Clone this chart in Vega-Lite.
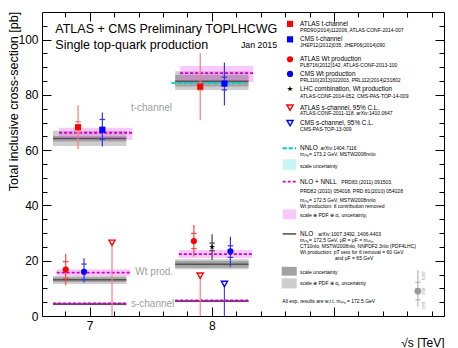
{
  "$schema": "https://vega.github.io/schema/vega-lite/v6.json",
  "width": 402,
  "height": 304,
  "autosize": {"type": "none"},
  "padding": {"left": 42, "top": 12, "right": 14, "bottom": 32},
  "config": {"view": {"stroke": "#000000", "strokeWidth": 1}, "font": "Liberation Sans", "text": {"font": "Liberation Sans"}},
  "datasets": {
    "bands": [
      {"x1": 6.7, "x2": 7.3, "y1": 61.5, "y2": 67.0, "kind": "tot"},
      {"x1": 7.7, "x2": 8.3, "y1": 81.8, "y2": 88.6, "kind": "tot"},
      {"x1": 6.7, "x2": 7.3, "y1": 11.6, "y2": 14.5, "kind": "tot"},
      {"x1": 7.7, "x2": 8.3, "y1": 16.9, "y2": 20.5, "kind": "tot"},
      {"x1": 6.7, "x2": 7.3, "y1": 3.9, "y2": 4.8, "kind": "tot"},
      {"x1": 7.7, "x2": 8.3, "y1": 5.0, "y2": 5.8, "kind": "tot"},
      {"x1": 8.572, "x2": 8.695, "y1": 10.0, "y2": 13.6, "kind": "tot"},
      {"x1": 6.7, "x2": 7.3, "y1": 63.1, "y2": 65.1, "kind": "scale"},
      {"x1": 7.7, "x2": 8.3, "y1": 83.0, "y2": 87.2, "kind": "scale"},
      {"x1": 6.7, "x2": 7.3, "y1": 12.3, "y2": 14.0, "kind": "scale"},
      {"x1": 7.7, "x2": 8.3, "y1": 17.5, "y2": 19.9, "kind": "scale"},
      {"x1": 6.7, "x2": 7.3, "y1": 4.1, "y2": 4.6, "kind": "scale"},
      {"x1": 7.7, "x2": 8.3, "y1": 5.2, "y2": 5.6, "kind": "scale"},
      {"x1": 8.572, "x2": 8.695, "y1": 14.6, "y2": 17.8, "kind": "scale"},
      {"x1": 6.75, "x2": 7.35, "y1": 63.7, "y2": 68.1, "kind": "nnll"},
      {"x1": 7.74, "x2": 8.34, "y1": 84.7, "y2": 90.5, "kind": "nnll"},
      {"x1": 6.73, "x2": 7.33, "y1": 14.5, "y2": 16.9, "kind": "nnll"},
      {"x1": 7.73, "x2": 8.33, "y1": 21.0, "y2": 23.9, "kind": "nnll"},
      {"x1": 6.7, "x2": 7.3, "y1": 4.4, "y2": 4.8, "kind": "nnll"},
      {"x1": 7.7, "x2": 8.3, "y1": 5.4, "y2": 5.8, "kind": "nnll"},
      {"x1": 8.58, "x2": 8.69, "y1": 35.0, "y2": 38.6, "kind": "nnll"},
      {"x1": 7.67, "x2": 8.27, "y1": 83.9, "y2": 84.8, "kind": "nnlo"},
      {"x1": 8.58, "x2": 8.69, "y1": 52.8, "y2": 56.7, "kind": "nnlo"}
    ],
    "lines": [
      {"x1": 6.7, "x2": 7.3, "y": 64.2, "kind": "nlo"},
      {"x1": 7.7, "x2": 8.3, "y": 84.9, "kind": "nlo"},
      {"x1": 6.7, "x2": 7.3, "y": 13.1, "kind": "nlo"},
      {"x1": 7.7, "x2": 8.3, "y": 18.7, "kind": "nlo"},
      {"x1": 6.7, "x2": 7.3, "y": 4.3, "kind": "nlo"},
      {"x1": 7.7, "x2": 8.3, "y": 5.4, "kind": "nlo"},
      {"x1": 8.58, "x2": 8.69, "y": 29.7, "kind": "nlo"},
      {"x1": 6.75, "x2": 7.35, "y": 66.3, "kind": "nnll"},
      {"x1": 7.74, "x2": 8.34, "y": 87.9, "kind": "nnll"},
      {"x1": 6.73, "x2": 7.33, "y": 15.7, "kind": "nnll"},
      {"x1": 7.73, "x2": 8.33, "y": 22.4, "kind": "nnll"},
      {"x1": 6.7, "x2": 7.3, "y": 4.6, "kind": "nnll"},
      {"x1": 7.7, "x2": 8.3, "y": 5.6, "kind": "nnll"},
      {"x1": 8.58, "x2": 8.69, "y": 48.6, "kind": "nnll"},
      {"x1": 7.67, "x2": 8.27, "y": 84.3, "kind": "nnlo"},
      {"x1": 8.58, "x2": 8.69, "y": 60.7, "kind": "nnlo"}
    ],
    "pts": [
      {"series": "ATLAS t-channel", "type": "measurement", "x": 6.905, "y": 68.3, "lo": 60.3, "hi": 76.3, "slo": 66.3, "shi": 70.3},
      {"series": "CMS t-channel", "type": "measurement", "x": 7.104, "y": 67.4, "lo": 61.3, "hi": 73.6, "slo": 63.9, "shi": 71.1},
      {"series": "ATLAS t-channel", "type": "measurement", "x": 7.905, "y": 83.0, "lo": 70.8, "hi": 95.1, "slo": 81.8, "shi": 84.2},
      {"series": "CMS t-channel", "type": "measurement", "x": 8.103, "y": 84.1, "lo": 76.2, "hi": 91.7, "slo": 81.8, "shi": 86.4},
      {"series": "ATLAS Wt", "type": "measurement", "x": 6.804, "y": 16.8, "lo": 11.1, "hi": 22.4, "slo": 13.6, "shi": 19.7},
      {"series": "CMS Wt", "type": "measurement", "x": 6.954, "y": 16.0, "lo": 12.1, "hi": 20.9, "slo": 13.2, "shi": 18.8},
      {"series": "ATLAS Wt", "type": "measurement", "x": 7.853, "y": 27.1, "lo": 21.5, "hi": 32.9, "slo": 24.4, "shi": 29.9},
      {"series": "LHC combination", "type": "measurement", "x": 8.002, "y": 25.0, "lo": 20.3, "hi": 29.6, "slo": 23.6, "shi": 26.4},
      {"series": "CMS Wt", "type": "measurement", "x": 8.152, "y": 23.4, "lo": 17.8, "hi": 28.7, "slo": 21.2, "shi": 25.4},
      {"series": "ATLAS s-channel", "type": "limit", "x": 7.183, "y": 26.5, "lo": 0, "hi": 26.5},
      {"series": "ATLAS s-channel", "type": "limit", "x": 7.905, "y": 14.6, "lo": 0, "hi": 14.6},
      {"series": "CMS s-channel", "type": "limit", "x": 8.103, "y": 11.6, "lo": 0, "hi": 11.6},
      {"series": "ATLAS t-channel", "type": "measurement", "x": 8.64, "y": 105.7},
      {"series": "CMS t-channel", "type": "measurement", "x": 8.64, "y": 100.1},
      {"series": "ATLAS Wt", "type": "measurement", "x": 8.64, "y": 92.9},
      {"series": "CMS Wt", "type": "measurement", "x": 8.64, "y": 87.6},
      {"series": "LHC combination", "type": "measurement", "x": 8.64, "y": 82.2},
      {"series": "ATLAS s-channel", "type": "limit", "x": 8.64, "y": 75.4},
      {"series": "CMS s-channel", "type": "limit", "x": 8.64, "y": 69.8}
    ],
    "keypt": [
      {"x": 9.686, "y": 9.0, "lo": 3.4, "hi": 16.6, "slo": 5.8, "shi": 12.2}
    ],
    "texts": [
      {"g": "title", "x": 6.719, "y": 103.9, "text": "ATLAS + CMS Preliminary TOPLHCWG"},
      {"g": "title", "x": 6.719, "y": 98.1, "text": "Single top-quark production"},
      {"g": "date", "x": 8.534, "y": 98.1, "text": "Jan 2015"},
      {"g": "band", "x": 7.338, "y": 75.2, "text": "t-channel"},
      {"g": "band", "x": 7.374, "y": 16.0, "text": "Wt prod."},
      {"g": "band", "x": 7.338, "y": 4.5, "text": "s-channel"},
      {"g": "entry", "x": 8.722, "y": 105.7, "text": "ATLAS t-channel"},
      {"g": "entry", "x": 8.722, "y": 100.1, "text": "CMS t-channel"},
      {"g": "entry", "x": 8.722, "y": 92.9, "text": "ATLAS Wt production"},
      {"g": "entry", "x": 8.722, "y": 87.6, "text": "CMS Wt production"},
      {"g": "entry", "x": 8.722, "y": 82.2, "text": "LHC combination,  Wt production"},
      {"g": "entry", "x": 8.722, "y": 75.4, "text": "ATLAS s-channel, 95% C.L."},
      {"g": "entry", "x": 8.722, "y": 69.8, "text": "CMS s-channel, 95% C.L."},
      {"g": "entry", "x": 8.722, "y": 60.7, "text": "NNLO"},
      {"g": "entry", "x": 8.722, "y": 48.6, "text": "NLO + NNLL"},
      {"g": "entry", "x": 8.722, "y": 29.7, "text": "NLO"},
      {"g": "ref", "x": 8.722, "y": 103.4, "text": "PRD90(2014)112006, ATLAS-CONF-2014-007"},
      {"g": "ref", "x": 8.722, "y": 98.0, "text": "JHEP12(2012)035, JHEP06(2014)090"},
      {"g": "ref", "x": 8.722, "y": 90.7, "text": "PLB716(2012)142, ATLAS-CONF-2013-100"},
      {"g": "ref", "x": 8.722, "y": 85.4, "text": "PRL110(2013)022003, PRL112(2014)231802"},
      {"g": "ref", "x": 8.722, "y": 79.7, "text": "ATLAS-CONF-2014-052, CMS-PAS-TOP-14-009"},
      {"g": "ref", "x": 8.722, "y": 73.3, "text": "ATLAS-CONF-2011-118, arXiv:1410.0647"},
      {"g": "ref", "x": 8.722, "y": 67.5, "text": "CMS-PAS-TOP-13-009"},
      {"g": "ref", "x": 8.89, "y": 60.7, "text": "arXiv:1404.7116"},
      {"g": "ref", "x": 8.722, "y": 58.5, "text": "mₜₒₚ= 173.2 GeV, MSTW2008nnlo"},
      {"g": "ref", "x": 8.722, "y": 54.4, "text": "scale uncertainty"},
      {"g": "ref", "x": 9.06, "y": 48.6, "text": "PRD83 (2011) 091503,"},
      {"g": "ref", "x": 8.722, "y": 45.2, "text": "PRD82 (2010) 054018, PRD 81(2010) 054028"},
      {"g": "ref", "x": 8.722, "y": 42.0, "text": "mₜₒₚ= 172.5 GeV, MSTW2008nnlo"},
      {"g": "ref", "x": 8.722, "y": 39.7, "text": "Wt production: tt̄ contribution removed"},
      {"g": "ref", "x": 8.722, "y": 36.5, "text": "scale ⊕ PDF ⊕ αₛ uncertainty,"},
      {"g": "ref", "x": 8.87, "y": 29.7, "text": "arXiv:1007.3492, 1406.4403"},
      {"g": "ref", "x": 8.722, "y": 27.5, "text": "mₜₒₚ= 172.5 GeV, μR = μF = mₜₒₚ,"},
      {"g": "ref", "x": 8.722, "y": 25.3, "text": "CT10nlo, MSTW2008nlo, NNPDF2.3nlo (PDF4LHC)"},
      {"g": "ref", "x": 8.722, "y": 23.0, "text": "Wt production: pT veto for tt̄ removal = 60 GeV"},
      {"g": "ref", "x": 9.008, "y": 20.9, "text": "and μF = 65 GeV"},
      {"g": "ref", "x": 8.722, "y": 16.0, "text": "scale uncertainty"},
      {"g": "ref", "x": 8.722, "y": 11.8, "text": "scale ⊕ PDF ⊕ αₛ uncertainty"},
      {"g": "ref", "x": 8.577, "y": 5.5, "text": "All exp. results are w.r.t. mₜₒₚ = 172.5 GeV"},
      {"g": "key", "x": 9.735, "y": 14.6, "text": "total"},
      {"g": "key", "x": 9.735, "y": 9.0, "text": "stat"},
      {"g": "key", "x": 9.735, "y": 3.8, "text": "syst"}
    ]
  },
  "layer": [
    {
      "data": {"name": "bands"},
      "transform": [{"filter": "datum.kind === 'tot' || datum.kind === 'scale'"}],
      "mark": {"type": "rect"},
      "encoding": {
        "x": {"field": "x1", "type": "quantitative", "scale": {"domain": [6.61, 9.9], "nice": false, "zero": false},
          "axis": {"orient": "bottom", "values": [6.8, 7, 7.2, 7.4, 7.6, 7.8, 8, 8.2, 8.4, 8.6, 8.8, 9, 9.2, 9.4, 9.6, 9.8],
            "domain": false, "grid": false, "tickColor": "#000000", "tickWidth": 1,
            "tickSize": {"condition": {"test": "abs(datum.value - round(datum.value)) < 0.01", "value": -9}, "value": -5},
            "labelExpr": "abs(datum.value - 7) < 0.01 ? '7' : (abs(datum.value - 8) < 0.01 ? '8' : '')",
            "labelFontSize": 12, "labelColor": "#000000", "labelPadding": 13, "labelFont": "Liberation Sans",
            "title": "√s [TeV]", "titleFontSize": 12, "titleFontWeight": "normal", "titleFont": "Liberation Sans",
            "titleX": 402, "titleY": 26, "titleAlign": "right", "titleBaseline": "middle", "titleColor": "#000000"}},
        "x2": {"field": "x2"},
        "y": {"field": "y1", "type": "quantitative", "scale": {"domain": [0, 110], "nice": false, "zero": false},
          "axis": {"orient": "left", "values": [0, 5, 10, 15, 20, 25, 30, 35, 40, 45, 50, 55, 60, 65, 70, 75, 80, 85, 90, 95, 100, 105],
            "domain": false, "grid": false, "tickColor": "#000000", "tickWidth": 1,
            "tickSize": {"condition": {"test": "datum.value % 20 === 0", "value": -9}, "value": -5},
            "labelExpr": "datum.value % 20 === 0 ? datum.label : ''",
            "labelFontSize": 12, "labelColor": "#000000", "labelPadding": 13, "labelFont": "Liberation Sans",
            "title": "Total inclusive cross-section [pb]", "titleFontSize": 12.5, "titleFontWeight": "normal", "titleFont": "Liberation Sans",
            "titleX": -29, "titleY": 89, "titleAngle": 270, "titleAlign": "center", "titleBaseline": "middle", "titleColor": "#000000"}},
        "y2": {"field": "y2"},
        "fill": {"field": "kind", "type": "nominal", "legend": null,
          "scale": {"domain": ["tot", "scale"], "range": ["#cdcdcd", "#a3a3a3"]}}
      }
    },
    {
      "data": {"name": "bands"},
      "transform": [{"filter": "datum.kind === 'nnll'"}],
      "mark": {"type": "rect", "fill": "#ee77ee", "opacity": 0.4},
      "encoding": {
        "x": {"field": "x1", "type": "quantitative", "axis": null},
        "x2": {"field": "x2"},
        "y": {"field": "y1", "type": "quantitative", "axis": null},
        "y2": {"field": "y2"}
      }
    },
    {
      "data": {"name": "bands"},
      "transform": [{"filter": "datum.kind === 'nnlo'"}],
      "mark": {"type": "rect", "fill": "#77e6e6", "opacity": 0.4},
      "encoding": {
        "x": {"field": "x1", "type": "quantitative", "axis": null},
        "x2": {"field": "x2"},
        "y": {"field": "y1", "type": "quantitative", "axis": null},
        "y2": {"field": "y2"}
      }
    },
    {
      "data": {"name": "lines"},
      "transform": [{"filter": "datum.kind === 'nlo'"}],
      "mark": {"type": "rule", "color": "#555555", "strokeWidth": 1.6},
      "encoding": {
        "x": {"field": "x1", "type": "quantitative", "scale": {"domain": [6.61, 9.9], "nice": false, "zero": false},
          "axis": {"orient": "top", "values": [6.8, 7, 7.2, 7.4, 7.6, 7.8, 8, 8.2, 8.4, 8.6, 8.8, 9, 9.2, 9.4, 9.6, 9.8],
            "domain": false, "grid": false, "labels": false, "title": null, "tickColor": "#000000", "tickWidth": 1,
            "tickSize": {"condition": {"test": "abs(datum.value - round(datum.value)) < 0.01", "value": -9}, "value": -5}}},
        "x2": {"field": "x2"},
        "y": {"field": "y", "type": "quantitative", "scale": {"domain": [0, 110], "nice": false, "zero": false},
          "axis": {"orient": "right", "values": [0, 5, 10, 15, 20, 25, 30, 35, 40, 45, 50, 55, 60, 65, 70, 75, 80, 85, 90, 95, 100, 105],
            "domain": false, "grid": false, "labels": false, "title": null, "tickColor": "#000000", "tickWidth": 1,
            "tickSize": {"condition": {"test": "datum.value % 20 === 0", "value": -9}, "value": -5}}}
      }
    },
    {
      "data": {"name": "lines"},
      "transform": [{"filter": "datum.kind === 'nnll'"}],
      "mark": {"type": "rule", "color": "#cc00cc", "strokeWidth": 1.8, "strokeDash": [3, 2]},
      "encoding": {
        "x": {"field": "x1", "type": "quantitative", "axis": null},
        "x2": {"field": "x2"},
        "y": {"field": "y", "type": "quantitative", "axis": null}
      }
    },
    {
      "data": {"name": "lines"},
      "transform": [{"filter": "datum.kind === 'nnlo'"}],
      "mark": {"type": "rule", "color": "#00cccc", "strokeWidth": 1.8, "strokeDash": [4, 2]},
      "encoding": {
        "x": {"field": "x1", "type": "quantitative", "axis": null},
        "x2": {"field": "x2"},
        "y": {"field": "y", "type": "quantitative", "axis": null}
      }
    },
    {
      "data": {"name": "pts"},
      "transform": [{"filter": "isValid(datum.lo)"}],
      "mark": {"type": "rule", "strokeWidth": 1.2},
      "encoding": {
        "x": {"field": "x", "type": "quantitative", "axis": null},
        "y": {"field": "lo", "type": "quantitative", "axis": null},
        "y2": {"field": "hi"},
        "stroke": {"field": "series", "type": "nominal", "legend": null,
          "scale": {"domain": ["ATLAS t-channel", "CMS t-channel", "ATLAS Wt", "CMS Wt", "LHC combination", "ATLAS s-channel", "CMS s-channel"],
            "range": ["#ff7777", "#3333ff", "#ff4444", "#3333ff", "#444444", "#ff8080", "#4444ff"]}}
      }
    },
    {
      "data": {"name": "pts"},
      "transform": [{"filter": "isValid(datum.slo)"}],
      "mark": {"type": "point", "shape": "stroke", "size": 30, "strokeWidth": 1.2, "filled": false, "opacity": 1},
      "encoding": {
        "x": {"field": "x", "type": "quantitative", "axis": null},
        "y": {"field": "slo", "type": "quantitative", "axis": null},
        "stroke": {"field": "series", "type": "nominal", "legend": null}
      }
    },
    {
      "data": {"name": "pts"},
      "transform": [{"filter": "isValid(datum.shi)"}],
      "mark": {"type": "point", "shape": "stroke", "size": 30, "strokeWidth": 1.2, "filled": false, "opacity": 1},
      "encoding": {
        "x": {"field": "x", "type": "quantitative", "axis": null},
        "y": {"field": "shi", "type": "quantitative", "axis": null},
        "stroke": {"field": "series", "type": "nominal", "legend": null}
      }
    },
    {
      "data": {"name": "pts"},
      "transform": [{"filter": "datum.type === 'measurement'"}],
      "mark": {"type": "point", "filled": true, "opacity": 1},
      "encoding": {
        "x": {"field": "x", "type": "quantitative", "axis": null},
        "y": {"field": "y", "type": "quantitative", "axis": null},
        "color": {"field": "series", "type": "nominal", "legend": null,
          "scale": {"domain": ["ATLAS t-channel", "CMS t-channel", "ATLAS Wt", "CMS Wt", "LHC combination", "ATLAS s-channel", "CMS s-channel"],
            "range": ["#ff0000", "#0000ff", "#ff0000", "#0000ff", "#000000", "#ff0000", "#0000ff"]}},
        "shape": {"field": "series", "type": "nominal", "legend": null,
          "scale": {"domain": ["ATLAS t-channel", "CMS t-channel", "ATLAS Wt", "CMS Wt", "LHC combination", "ATLAS s-channel", "CMS s-channel"],
            "range": ["square", "square", "circle", "circle", "M0,-1L0.2245,-0.309L0.9511,-0.309L0.3633,0.118L0.5878,0.809L0,0.382L-0.5878,0.809L-0.3633,0.118L-0.9511,-0.309L-0.2245,-0.309Z", "triangle-down", "triangle-down"]}},
        "size": {"field": "series", "type": "nominal", "legend": null,
          "scale": {"domain": ["ATLAS t-channel", "CMS t-channel", "ATLAS Wt", "CMS Wt", "LHC combination", "ATLAS s-channel", "CMS s-channel"],
            "range": [38, 38, 42, 42, 75, 42, 42]}}
      }
    },
    {
      "data": {"name": "pts"},
      "transform": [{"filter": "datum.type === 'limit'"}],
      "mark": {"type": "point", "filled": false, "opacity": 1, "strokeWidth": 1.4, "fill": "#ffffff", "fillOpacity": 1},
      "encoding": {
        "x": {"field": "x", "type": "quantitative", "axis": null},
        "y": {"field": "y", "type": "quantitative", "axis": null},
        "color": {"field": "series", "type": "nominal", "legend": null},
        "shape": {"field": "series", "type": "nominal", "legend": null},
        "size": {"field": "series", "type": "nominal", "legend": null}
      }
    },
    {
      "data": {"name": "keypt"},
      "mark": {"type": "rule", "color": "#aaaaaa", "strokeWidth": 1},
      "encoding": {
        "x": {"field": "x", "type": "quantitative", "axis": null},
        "y": {"field": "lo", "type": "quantitative", "axis": null},
        "y2": {"field": "hi"}
      }
    },
    {
      "data": {"name": "keypt"},
      "mark": {"type": "point", "shape": "stroke", "size": 25, "color": "#aaaaaa", "strokeWidth": 1, "opacity": 1},
      "encoding": {
        "x": {"field": "x", "type": "quantitative", "axis": null},
        "y": {"field": "slo", "type": "quantitative", "axis": null}
      }
    },
    {
      "data": {"name": "keypt"},
      "mark": {"type": "point", "shape": "stroke", "size": 25, "color": "#aaaaaa", "strokeWidth": 1, "opacity": 1},
      "encoding": {
        "x": {"field": "x", "type": "quantitative", "axis": null},
        "y": {"field": "shi", "type": "quantitative", "axis": null}
      }
    },
    {
      "data": {"name": "keypt"},
      "mark": {"type": "point", "shape": "circle", "size": 45, "color": "#999999", "filled": true, "opacity": 1},
      "encoding": {
        "x": {"field": "x", "type": "quantitative", "axis": null},
        "y": {"field": "y", "type": "quantitative", "axis": null}
      }
    },
    {
      "data": {"name": "texts"},
      "transform": [{"filter": "datum.g === 'title'"}],
      "mark": {"type": "text", "align": "left", "baseline": "middle", "fontSize": 12.5, "color": "#000000", "font": "Liberation Sans"},
      "encoding": {
        "x": {"field": "x", "type": "quantitative", "axis": null},
        "y": {"field": "y", "type": "quantitative", "axis": null},
        "text": {"field": "text"}
      }
    },
    {
      "data": {"name": "texts"},
      "transform": [{"filter": "datum.g === 'date'"}],
      "mark": {"type": "text", "align": "right", "baseline": "middle", "fontSize": 8.8, "color": "#000000", "font": "Liberation Sans"},
      "encoding": {
        "x": {"field": "x", "type": "quantitative", "axis": null},
        "y": {"field": "y", "type": "quantitative", "axis": null},
        "text": {"field": "text"}
      }
    },
    {
      "data": {"name": "texts"},
      "transform": [{"filter": "datum.g === 'band'"}],
      "mark": {"type": "text", "align": "left", "baseline": "middle", "fontSize": 10, "color": "#a0a0a0", "font": "Liberation Sans"},
      "encoding": {
        "x": {"field": "x", "type": "quantitative", "axis": null},
        "y": {"field": "y", "type": "quantitative", "axis": null},
        "text": {"field": "text"}
      }
    },
    {
      "data": {"name": "texts"},
      "transform": [{"filter": "datum.g === 'entry'"}],
      "mark": {"type": "text", "align": "left", "baseline": "middle", "fontSize": 6.4, "color": "#000000", "font": "Liberation Sans"},
      "encoding": {
        "x": {"field": "x", "type": "quantitative", "axis": null},
        "y": {"field": "y", "type": "quantitative", "axis": null},
        "text": {"field": "text"}
      }
    },
    {
      "data": {"name": "texts"},
      "transform": [{"filter": "datum.g === 'ref'"}],
      "mark": {"type": "text", "align": "left", "baseline": "middle", "fontSize": 5, "color": "#000000", "font": "Liberation Sans"},
      "encoding": {
        "x": {"field": "x", "type": "quantitative", "axis": null},
        "y": {"field": "y", "type": "quantitative", "axis": null},
        "text": {"field": "text"}
      }
    },
    {
      "data": {"name": "texts"},
      "transform": [{"filter": "datum.g === 'key'"}],
      "mark": {"type": "text", "align": "center", "baseline": "middle", "angle": 270, "fontSize": 4.5, "color": "#b0b0b0", "font": "Liberation Sans"},
      "encoding": {
        "x": {"field": "x", "type": "quantitative", "axis": null},
        "y": {"field": "y", "type": "quantitative", "axis": null},
        "text": {"field": "text"}
      }
    }
  ],
  "resolve": {"axis": {"x": "independent", "y": "independent"}}
}
